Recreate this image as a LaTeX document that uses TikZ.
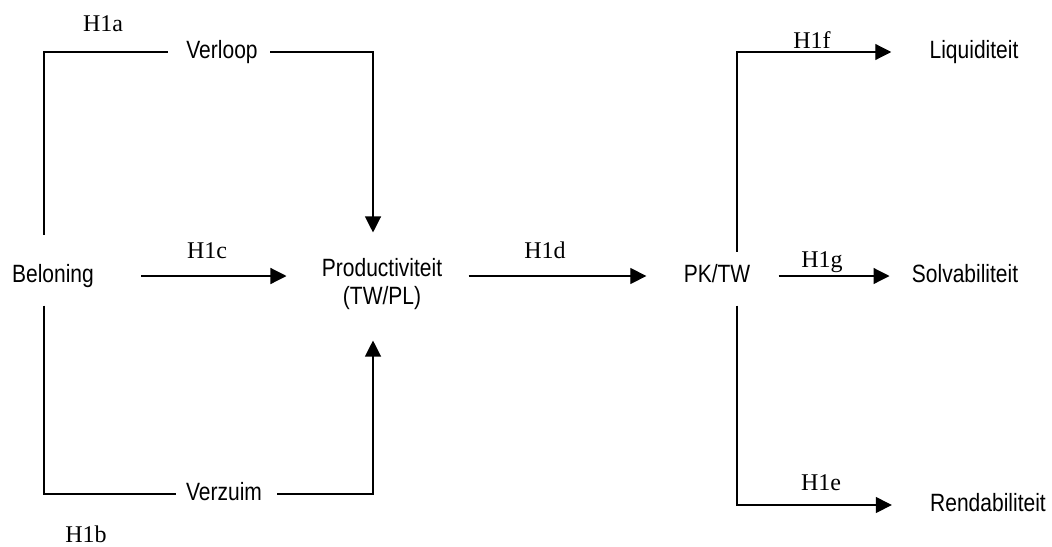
\documentclass[tikz,border=0pt]{standalone}
\usepackage{fontspec}
\setmainfont{Liberation Serif}
\setsansfont{Liberation Sans}
\newfontfamily\varfont[FakeStretch=0.84]{Liberation Sans}
\usetikzlibrary{arrows.meta}

\begin{document}
\begin{tikzpicture}[
  x=0.5pt, y=-0.5pt,
  vtext/.style={inner sep=0pt, font=\varfont\fontsize{12.5}{14}\selectfont},
  var/.style={vtext, text height=9.5pt, text depth=2.6pt},
  hyp/.style={inner sep=0pt, font=\fontsize{12}{14}\selectfont},
  line/.style={line width=0.6pt},
  arrow/.style={line, -{Triangle[length=8pt,width=8pt]}}
]
\useasboundingbox (0,0) rectangle (1052,546);

% Variabelen
\node[var] (beloning) at (53,276) {Beloning};
\node[var] (verloop) at (222,52) {Verloop};
\node[var] (verzuim) at (224,494) {Verzuim};
\node[vtext, align=center] (prod) at (382,284.5) {Productiviteit\\(TW/PL)};
\node[var] (pktw) at (717,276) {PK/TW};
\node[var] (liq) at (974,52) {Liquiditeit};
\node[var] (solv) at (965,276) {Solvabiliteit};
\node[var] (rend) at (988,505) {Rendabiliteit};

% Hypothesen
\node[hyp] (h1a) at (103,24) {H1a};
\node[hyp] (h1b) at (86,534) {H1b};
\node[hyp] (h1c) at (207,251) {H1c};
\node[hyp] (h1d) at (545,250) {H1d};
\node[hyp] (h1f) at (812,40) {H1f};
\node[hyp] (h1g) at (822,262) {H1g};
\node[hyp] (h1e) at (821,483) {H1e};

% Linker deel
\draw[line, shorten <=14.5pt, shorten >=9pt] ([xshift=-4.5pt]beloning.north) |- (verloop.west);
\draw[arrow, shorten <=6pt, shorten >=13pt] (verloop.east) -| ([xshift=-4.5pt]prod.north);
\draw[line, shorten <=8.5pt, shorten >=5pt] ([xshift=-4.5pt]beloning.south) |- (verzuim.west);
\draw[arrow, shorten <=7.5pt, shorten >=15pt] (verzuim.east) -| ([xshift=-4.5pt]prod.south);
\draw[arrow, shorten <=23.5pt, shorten >=17.5pt] (beloning.east) -- (beloning.east -| prod.west);
\draw[arrow, shorten <=13pt, shorten >=18.5pt] (prod.east |- pktw.west) -- (pktw.west);

% Rechter deel
\draw[arrow, shorten <=6pt, shorten >=19pt] ([xshift=10pt]pktw.north) |- (liq.west);
\draw[arrow, shorten <=14pt, shorten >=11pt] (pktw.east) -- (solv.west);
\draw[arrow, shorten <=8.5pt, shorten >=19pt] ([xshift=10pt]pktw.south) |- (rend.west);

\end{tikzpicture}
\end{document}
